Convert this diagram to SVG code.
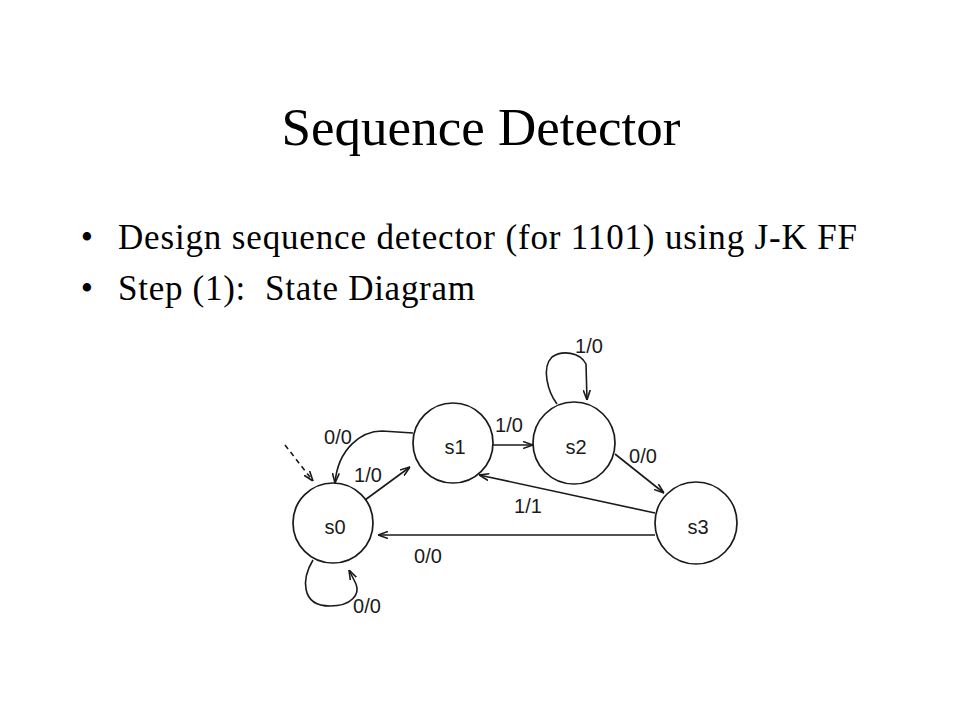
<svg xmlns="http://www.w3.org/2000/svg" width="960" height="720" viewBox="0 0 960 720">
<style>
.title{font-family:"Liberation Serif","Times New Roman",serif;font-size:53px;fill:#000}
.body{font-family:"Liberation Serif","Times New Roman",serif;font-size:35px;fill:#000}
.state{fill:none;stroke:#1a1a1a;stroke-width:1.7}
.lbl{font-family:"Liberation Sans",Arial,sans-serif;font-size:20px;fill:#1a1a1a;text-anchor:middle}
.edge{fill:none;stroke:#1a1a1a;stroke-width:1.6}
.dash{stroke-dasharray:5 4}
</style>
<defs>
<marker id="arr" viewBox="0 0 10 8" refX="10" refY="4" markerWidth="10" markerHeight="8" markerUnits="userSpaceOnUse" orient="auto">
<path d="M0,0.5 L10,4 L0,7.5" fill="none" stroke="#1a1a1a" stroke-width="1.6"/>
</marker>
</defs>
<rect width="960" height="720" fill="#fff"/>
<g id="heading">
<text class="title" x="481" y="145" text-anchor="middle">Sequence Detector</text>
<text class="body" x="87" y="249" text-anchor="middle">•</text>
<text class="body" x="118" y="249" textLength="739" lengthAdjust="spacing">Design sequence detector (for 1101) using J-K FF</text>
<text class="body" x="87" y="300" text-anchor="middle">•</text>
<text class="body" x="118" y="300" textLength="357" lengthAdjust="spacing" xml:space="preserve">Step (1):  State Diagram</text>
</g>
<g id="connectors">
<path class="edge dash" d="M285,445 L313,481" marker-end="url(#arr)"/>
<path class="edge" d="M413,433 L382,431 C362,431 338,448 335,483" marker-end="url(#arr)"/>
<path class="edge" d="M365,500 L410,467" marker-end="url(#arr)"/>
<path class="edge" d="M313,560 C302,578 300,606 330,606 C352,606 360,594 356,584 L349,570" marker-end="url(#arr)"/>
<path class="edge" d="M655,535 L378,535" marker-end="url(#arr)"/>
<path class="edge" d="M655,513 L479,475" marker-end="url(#arr)"/>
<path class="edge" d="M493,445 L533,445" marker-end="url(#arr)"/>
<path class="edge" d="M615,454 L664,493" marker-end="url(#arr)"/>
<path class="edge" d="M557,404 C548,392 541,368 552,357 C562,350 580,352 586,364 L587,400" marker-end="url(#arr)"/>
<text class="lbl" x="338" y="444">0/0</text>
<text class="lbl" x="368" y="482">1/0</text>
<text class="lbl" x="367" y="613">0/0</text>
<text class="lbl" x="428" y="563">0/0</text>
<text class="lbl" x="528" y="513">1/1</text>
<text class="lbl" x="509" y="432">1/0</text>
<text class="lbl" x="643" y="463">0/0</text>
<text class="lbl" x="589" y="353">1/0</text>
</g>
<g id="s0"><circle class="state" cx="333" cy="523" r="40"/><text class="lbl" x="335" y="534">s0</text></g>
<g id="s1"><circle class="state" cx="453" cy="443" r="40"/><text class="lbl" x="455" y="454">s1</text></g>
<g id="s2"><circle class="state" cx="574" cy="443" r="41"/><text class="lbl" x="576" y="454">s2</text></g>
<g id="s3"><circle class="state" cx="696" cy="523" r="41"/><text class="lbl" x="698" y="534">s3</text></g>
</svg>
